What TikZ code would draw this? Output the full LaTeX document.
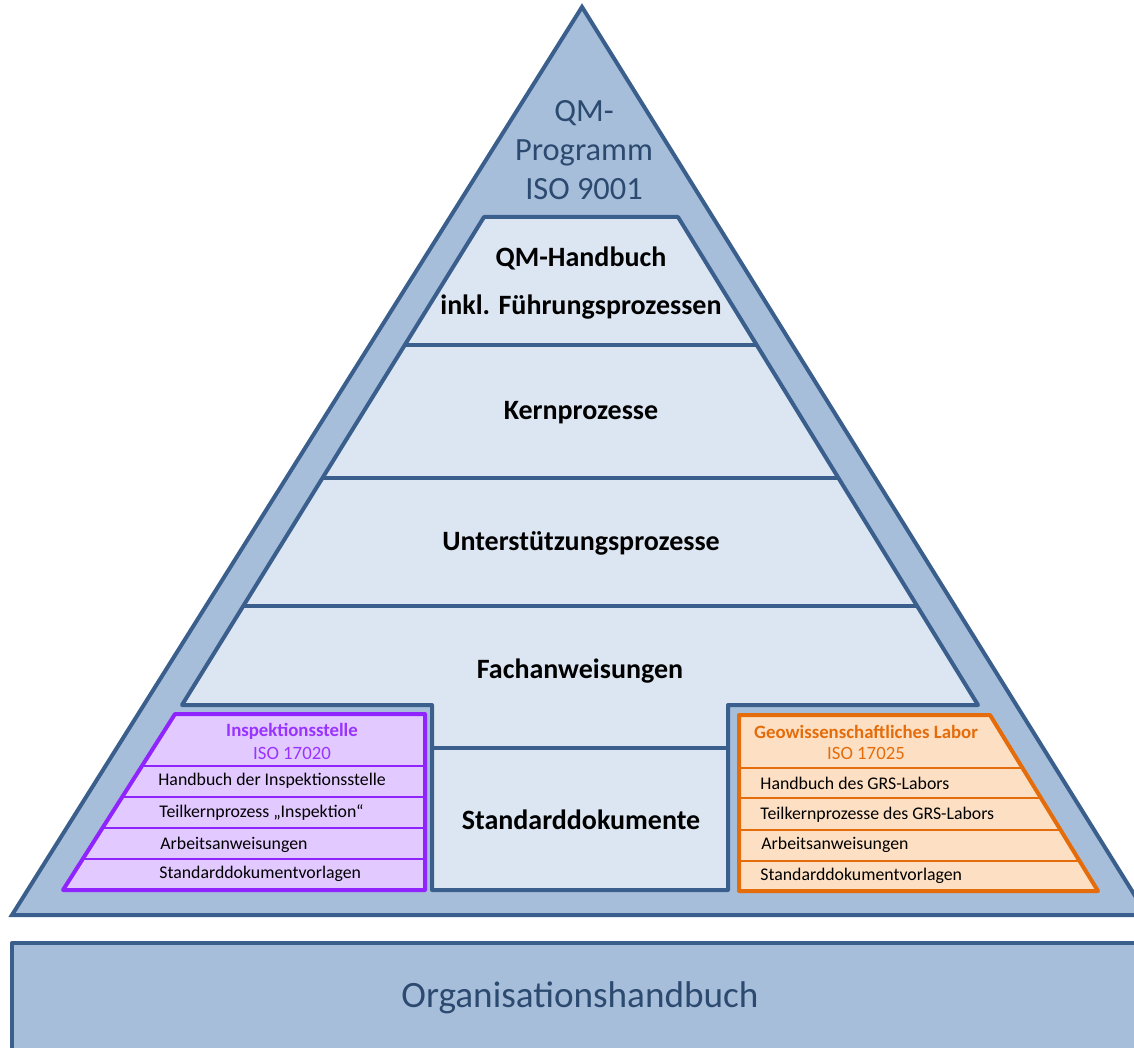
\documentclass[tikz,border=0pt]{standalone}
\usepackage{fontspec}
\setmainfont{Carlito}
\definecolor{outerfill}{HTML}{A7BEDB}
\definecolor{frame}{HTML}{3B5F8C}
\definecolor{innerfill}{HTML}{DCE6F2}
\definecolor{navytext}{HTML}{2C4A70}
\definecolor{purpleline}{HTML}{9024FF}
\definecolor{purplefill}{HTML}{E2C9FF}
\definecolor{purpletext}{HTML}{9933FF}
\definecolor{orangeline}{HTML}{E46C0A}
\definecolor{orangefill}{HTML}{FDE0C4}
\definecolor{orangetext}{HTML}{E46C0A}
\tikzset{
  outershape/.style={draw=frame, fill=outerfill, line width=2pt, line join=round},
  innershape/.style={draw=frame, fill=innerfill, line width=2pt, line join=round},
  layerline/.style={draw=frame, line width=2pt},
  purplebox/.style={draw=purpleline, fill=purplefill, line width=2pt, line join=round},
  purplesep/.style={draw=purpleline, line width=0.7pt},
  orangebox/.style={draw=orangeline, fill=orangefill, line width=2pt, line join=round},
  orangesep/.style={draw=orangeline, line width=0.7pt},
  layerlabel/.style={font=\fontsize{14}{17}\selectfont\bfseries, text=black, inner sep=0pt},
  bluelabel/.style={font=\fontsize{16.2}{19.5}\selectfont, text=navytext, align=center, inner sep=0pt},
  orglabel/.style={font=\fontsize{18.6}{22}\selectfont, text=navytext, inner sep=0pt},
  rowlabel/.style={font=\fontsize{8.9}{10.5}\selectfont, text=black, anchor=west, inner sep=0pt},
  purplehead/.style={font=\fontsize{9.4}{11}\selectfont\bfseries, text=purpletext, inner sep=0pt},
  purplesub/.style={font=\fontsize{9.4}{11}\selectfont, text=purpletext, inner sep=0pt},
  orangehead/.style={font=\fontsize{9.4}{11}\selectfont\bfseries, text=orangetext, inner sep=0pt},
  orangesub/.style={font=\fontsize{9.4}{11}\selectfont, text=orangetext, inner sep=0pt},
}
\begin{document}
\begin{tikzpicture}[x=0.5pt,y=-0.5pt]
\useasboundingbox (0,0) rectangle (1134,1048);
\clip (0,0) rectangle (1134,1048);
% outer triangle
\draw[outershape, line join=miter] (582,7) -- (1147,915) -- (12,915) -- cycle;
% bottom rectangle
\draw[outershape] (12,943) rectangle (1160,1070);
% inner pyramid with notch
\draw[innershape] (484,217) -- (678,217) -- (978,705) -- (728,705) -- (728,890)
  -- (432,890) -- (432,705) -- (182,705) -- cycle;
\draw[layerline] (405,345) -- (757,345);
\draw[layerline] (323,478) -- (839,478);
\draw[layerline] (243,606) -- (918,606);
\draw[layerline] (432,748) -- (728,748);
% purple box
\draw[purplebox] (175,714) -- (425,714) -- (425,890) -- (63,890) -- cycle;
\draw[purplesep] (141.9,766) -- (425,766);
\draw[purplesep] (122.2,797) -- (425,797);
\draw[purplesep] (102.5,828) -- (425,828);
\draw[purplesep] (82.7,859) -- (425,859);
% orange box
\draw[orangebox] (739,715) -- (990,715) -- (1098,891) -- (739,891) -- cycle;
\draw[orangesep] (739,768) -- (1022.5,768);
\draw[orangesep] (739,798) -- (1040.9,798);
\draw[orangesep] (739,830) -- (1060.6,830);
\draw[orangesep] (739,861) -- (1079.6,861);
% texts
\node[bluelabel] (qmprog) at (584,150) {QM-\\Programm\\ISO 9001};
\node[layerlabel] (qmhb) at (581,258) {QM-Handbuch};
\node[layerlabel] (fuehr) at (581,307) {inkl. Führungsprozessen};
\node[layerlabel] (kern) at (581,413) {Kernprozesse};
\node[layerlabel] (unter) at (581,543) {Unterstützungsprozesse};
\node[layerlabel] (fach) at (580,671) {Fachanweisungen};
\node[layerlabel] (std) at (581,820) {Standarddokumente};
\node[orglabel] (org) at (580,998) {Organisationshandbuch};
\node[purplehead] (insp) at (292,731) {Inspektionsstelle};
\node[purplesub] (iso20) at (292,753) {ISO 17020};
\node[rowlabel] (p1) at (158,781) {Handbuch der Inspektionsstelle};
\node[rowlabel] (p2) at (159,813) {Teilkernprozess „Inspektion“};
\node[rowlabel] (p3) at (160,845) {Arbeitsanweisungen};
\node[rowlabel] (p4) at (159,874) {Standarddokumentvorlagen};
\node[orangehead] (geo) at (866,732) {Geowissenschaftliches Labor};
\node[orangesub] (iso25) at (866,753) {ISO 17025};
\node[rowlabel] (o1) at (760,783) {Handbuch des GRS-Labors};
\node[rowlabel] (o2) at (760,815) {Teilkernprozesse des GRS-Labors};
\node[rowlabel] (o3) at (761,845) {Arbeitsanweisungen};
\node[rowlabel] (o4) at (760,876) {Standarddokumentvorlagen};
\end{tikzpicture}
\end{document}
